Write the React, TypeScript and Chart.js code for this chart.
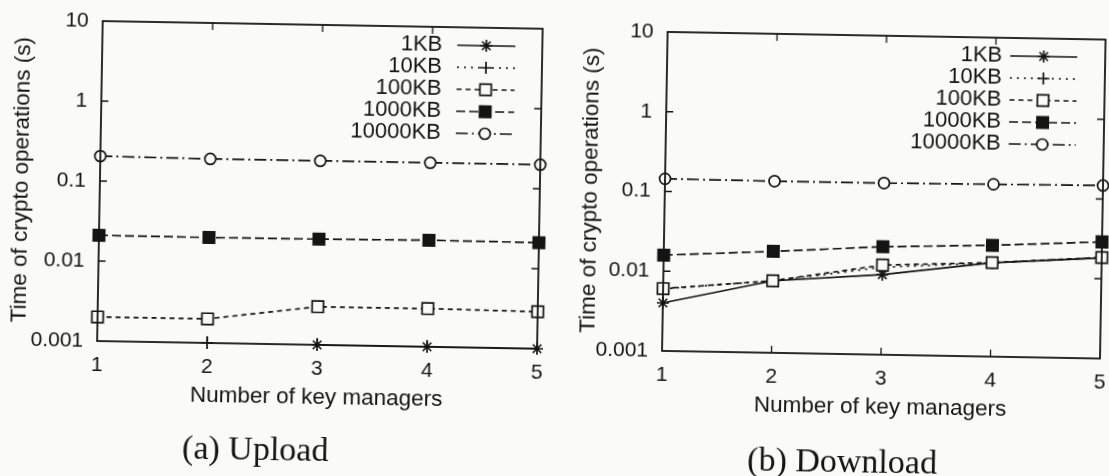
import React, { useEffect, useRef } from 'react';
import { Chart, registerables } from 'chart.js';
import { drawPoint } from 'chart.js/helpers';

Chart.register(...registerables);

// ---------- data ----------
const keyManagers = ['1', '2', '3', '4', '5'];
const seriesNames = ['1KB', '10KB', '100KB', '1000KB', '10000KB'];
const yTickValues = [0.001, 0.01, 0.1, 1, 10];
const yTickLabels = ['0.001', '0.01', '0.1', '1', '10'];

const upload1KB = [null, null, 0.001, 0.001, 0.001];
const upload10KB = [null, 0.001, null, null, null];
const upload100KB = [0.002, 0.002, 0.003, 0.003, 0.0029];
const upload1000KB = [0.021, 0.0208, 0.021, 0.0215, 0.0212];
const upload10000KB = [0.205, 0.2, 0.2, 0.2, 0.2];

const download1KB = [0.004, 0.008, 0.0101, 0.015, 0.0183];
const download10KB = [0.006, 0.008, 0.0125, 0.015, 0.0184];
const download100KB = [0.00605, 0.008, 0.0133, 0.0151, 0.0185];
const download1000KB = [0.0159, 0.0187, 0.0226, 0.0249, 0.029];
const download10000KB = [0.144, 0.142, 0.142, 0.145, 0.148];

const xTitle = 'Number of key managers';
const yTitle = 'Time of crypto operations (s)';
const captionUpload = '(a) Upload';
const captionDownload = '(b) Download';

// ---------- styles ----------
const INK = '#141414';
const PAPER = '#fafaf8';
const SANS = '"Liberation Sans", Arial, Helvetica, sans-serif';
const SERIF = '"Liberation Serif", "DejaVu Serif", serif';
const markerStyle = ['star', 'cross', 'rect', 'rect', 'circle'];
const markerRadius = [6, 6, 8, 8, 5.5];
const markerFill = [INK, INK, PAPER, INK, PAPER];
const dashes = [[], [2, 5], [5, 4], [9, 4], [12, 4, 2, 4]];
const LW = 1.7;

function makeDatasets(values: (number | null)[][]) {
  return seriesNames.map((name, i) => ({
    label: name,
    data: values[i],
    borderColor: INK,
    backgroundColor: markerFill[i],
    borderWidth: LW,
    borderDash: dashes[i],
    pointStyle: markerStyle[i],
    pointRadius: markerRadius[i],
    pointBorderWidth: LW,
    pointBorderColor: INK,
    pointBackgroundColor: markerFill[i],
    tension: 0,
    spanGaps: false,
    clip: false,
    fill: false,
    order: seriesNames.length - i,
  }));
}

const framePlugin = {
  id: 'gnuFrame',
  afterDatasetsDraw(chart: any) {
    const { ctx, chartArea: a, scales } = chart;
    ctx.save();
    ctx.setLineDash([]);
    ctx.strokeStyle = INK;
    ctx.lineWidth = 1.8;
    ctx.strokeRect(a.left, a.top, a.right - a.left, a.bottom - a.top);
    ctx.lineWidth = 1.3;
    keyManagers.forEach((_, i) => {
      const x = scales.x.getPixelForTick(i);
      if (x <= a.left + 1 || x >= a.right - 1) return;
      ctx.beginPath();
      ctx.moveTo(x, a.bottom);
      ctx.lineTo(x, a.bottom - 7);
      ctx.moveTo(x, a.top);
      ctx.lineTo(x, a.top + 7);
      ctx.stroke();
    });
    yTickValues.forEach((v) => {
      const y = scales.y.getPixelForValue(v);
      if (y <= a.top + 1 || y >= a.bottom - 1) return;
      ctx.beginPath();
      ctx.moveTo(a.left, y);
      ctx.lineTo(a.left + 7, y);
      ctx.moveTo(a.right, y);
      ctx.lineTo(a.right - 7, y);
      ctx.stroke();
    });
    ctx.restore();
  },
};

const legendPlugin = {
  id: 'gnuLegend',
  afterDatasetsDraw(chart: any, _args: any, opts: any) {
    const { ctx, chartArea: a } = chart;
    ctx.save();
    chart.data.datasets.forEach((ds: any, i: number) => {
      const y = a.top + 18 + i * 22;
      ctx.setLineDash([]);
      ctx.font = `22px ${SANS}`;
      ctx.fillStyle = INK;
      ctx.textAlign = 'right';
      ctx.textBaseline = 'middle';
      ctx.fillText(ds.label, a.right - opts.textGap, y);
      const x0 = a.right - opts.sampleStart;
      const x1 = a.right - opts.sampleEnd;
      ctx.strokeStyle = INK;
      ctx.lineWidth = LW;
      ctx.setLineDash(ds.borderDash);
      ctx.beginPath();
      ctx.moveTo(x0, y);
      ctx.lineTo(x1, y);
      ctx.stroke();
      ctx.setLineDash([]);
      ctx.fillStyle = ds.pointBackgroundColor;
      ctx.strokeStyle = INK;
      ctx.lineWidth = LW;
      drawPoint(ctx, { pointStyle: ds.pointStyle, radius: ds.pointRadius, rotation: 0, borderWidth: LW } as any, (x0 + x1) / 2, y);
    });
    ctx.restore();
  },
};

type PlotProps = {
  left: number;
  width: number;
  height: number;
  yAxisWidth: number;
  padTop: number;
  padRight: number;
  padBottom: number;
  yTitlePad: number;
  values: (number | null)[][];
  legend: { textGap: number; sampleStart: number; sampleEnd: number };
};

function Plot(p: PlotProps) {
  const ref = useRef<HTMLCanvasElement>(null);
  useEffect(() => {
    const tickFont = { family: SANS, size: 21, lineHeight: 1.2 };
    const titleFont = { family: SANS, size: 22.5, lineHeight: 1.2 };
    const chart = new Chart(ref.current as HTMLCanvasElement, {
      type: 'line',
      data: { labels: keyManagers, datasets: makeDatasets(p.values) as any },
      options: {
        animation: false,
        responsive: false,
        maintainAspectRatio: false,
        events: [],
        layout: { padding: { left: 0, top: p.padTop, right: p.padRight, bottom: p.padBottom } },
        plugins: {
          legend: { display: false },
          tooltip: { enabled: false },
          gnuLegend: p.legend,
        } as any,
        scales: {
          x: {
            type: 'category',
            offset: false,
            grid: { display: false, drawTicks: false },
            border: { display: false },
            ticks: { color: INK, font: tickFont, padding: 12, maxRotation: 0, autoSkip: false },
            title: { display: true, text: xTitle, color: INK, font: titleFont, padding: { top: 0, bottom: 4 } },
            afterFit: (s: any) => {
              s.height = 70;
            },
          },
          y: {
            type: 'logarithmic',
            min: 0.001,
            max: 10,
            grid: { display: false, drawTicks: false },
            border: { display: false },
            afterBuildTicks: (s: any) => {
              s.ticks = yTickValues.map((v) => ({ value: v }));
            },
            ticks: {
              color: INK,
              font: tickFont,
              padding: 14,
              callback: (v: any) => yTickLabels[yTickValues.indexOf(Number(v))],
            },
            title: { display: true, text: yTitle, color: INK, font: titleFont, padding: { top: p.yTitlePad, bottom: 0 } },
            afterFit: (s: any) => {
              s.width = p.yAxisWidth;
            },
          },
        },
      } as any,
      plugins: [framePlugin, legendPlugin],
    });
    return () => chart.destroy();
  }, []);
  return (
    <canvas
      ref={ref}
      width={p.width}
      height={p.height}
      style={{ position: 'absolute', left: p.left, top: 0, width: p.width, height: p.height }}
    />
  );
}

export default function App() {
  const captionStyle: React.CSSProperties = {
    position: 'absolute',
    fontFamily: SERIF,
    fontSize: 34,
    color: INK,
    whiteSpace: 'nowrap',
    transform: 'translate(-50%, -50%)',
    lineHeight: 1,
  };
  return (
    <div style={{ position: 'fixed', left: 0, top: 0, width: 1109, height: 476, background: PAPER, overflow: 'hidden' }}>
      <div
        style={{
          position: 'absolute',
          left: 0,
          top: 0,
          width: 1109,
          height: 476,
          transform: 'rotate(1deg)',
          transformOrigin: '554.5px 238px',
        }}
      >
        <Plot
          left={0}
          width={560}
          height={476}
          yAxisWidth={99}
          padTop={29}
          padRight={21}
          padBottom={57}
          yTitlePad={7}
          values={[upload1KB, upload10KB, upload100KB, upload1000KB, upload10000KB]}
          legend={{ textGap: 100, sampleStart: 85, sampleEnd: 27 }}
        />
        <Plot
          left={560}
          width={570}
          height={476}
          yAxisWidth={104}
          padTop={30}
          padRight={28}
          padBottom={57}
          yTitlePad={16}
          values={[download1KB, download10KB, download100KB, download1000KB, download10000KB]}
          legend={{ textGap: 103, sampleStart: 95, sampleEnd: 28 }}
        />
        <div style={{ ...captionStyle, left: 259, top: 454 }}>{captionUpload}</div>
        <div style={{ ...captionStyle, left: 846, top: 456 }}>{captionDownload}</div>
      </div>
    </div>
  );
}
